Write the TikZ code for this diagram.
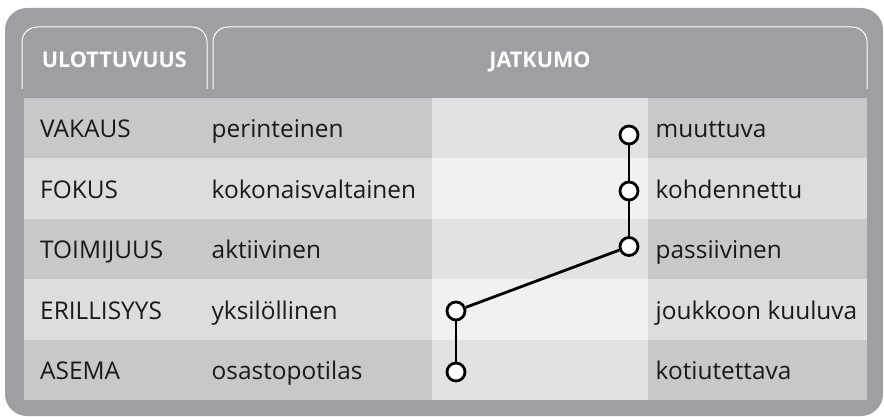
\documentclass[tikz,border=0pt]{standalone}
\usepackage{fontspec}
\setmainfont{Open Sans}
\definecolor{outergray}{HTML}{9E9FA3}
\definecolor{darkside}{HTML}{C7C8CA}
\definecolor{lightside}{HTML}{DCDDDF}
\definecolor{darkmid}{HTML}{E1E2E4}
\definecolor{lightmid}{HTML}{F1F1F1}
\definecolor{txt}{HTML}{1A1A1A}
\begin{document}
\begin{tikzpicture}[x=1pt,y=-1pt,
  celltext/.style={anchor=base west, inner sep=0pt, text=txt, font=\fontsize{24.4}{28}\selectfont},
  headtext/.style={anchor=base, inner sep=0pt, text=white, font=\bfseries\fontsize{21.6}{25}\selectfont},
  tabline/.style={draw=white, line width=1pt, rounded corners=15pt},
  dot/.style={circle, draw=black, fill=white, line width=2.8pt, minimum size=18pt, inner sep=0pt},
  link/.style={draw=black, line width=2.8pt}
]
\useasboundingbox (0,0) rectangle (884,417);
\fill[white] (0,0) rectangle (884,417);
\fill[outergray, rounded corners=22pt] (5,8) rectangle (883,416);
% tabs
\draw[tabline] (22,89) -- (22,27) -- (207,27) -- (207,89);
\draw[tabline] (213,89) -- (213,27) -- (867,27) -- (867,89);
\node[headtext] (h1) at (114.3,67.3) {ULOTTUVUUS};
\node[headtext] (h2) at (540,67.3) {JATKUMO};
% rows
\foreach \i/\side/\mid in {0/darkside/darkmid,1/lightside/lightmid,2/darkside/darkmid,3/lightside/lightmid,4/darkside/darkmid}{
  \fill[\side] (24,{98+60.4*\i}) rectangle (432,{98+60.4*(\i+1)});
  \fill[\mid] (432,{98+60.4*\i}) rectangle (648.3,{98+60.4*(\i+1)});
  \fill[\side] (648.3,{98+60.4*\i}) rectangle (866.7,{98+60.4*(\i+1)});
}
% texts
\node[celltext] (a1) at (40,138) {VAKAUS};
\node[celltext] (a2) at (40,198.4) {FOKUS};
\node[celltext] (a3) at (40,258.8) {TOIMIJUUS};
\node[celltext] (a4) at (40,319.2) {ERILLISYYS};
\node[celltext] (a5) at (40,379.6) {ASEMA};
\node[celltext] (b1) at (211.5,138) {perinteinen};
\node[celltext] (b2) at (211.5,198.4) {kokonaisvaltainen};
\node[celltext] (b3) at (211.5,258.8) {aktiivinen};
\node[celltext] (b4) at (211.5,319.2) {yksilöllinen};
\node[celltext] (b5) at (211.5,379.6) {osastopotilas};
\node[celltext] (r1) at (655.5,138) {muuttuva};
\node[celltext] (r2) at (655.5,198.4) {kohdennettu};
\node[celltext] (r3) at (655.5,258.8) {passiivinen};
\node[celltext] (r4) at (655.5,319.2) {joukkoon kuuluva};
\node[celltext] (r5) at (655.5,379.6) {kotiutettava};
% profile
\node[dot] (c1) at (629,135) {};
\node[dot] (c2) at (629,191) {};
\node[dot] (c3) at (629,246.5) {};
\node[dot] (c4) at (456,311) {};
\node[dot] (c5) at (456,372) {};
\draw[link] (c1) -- (c2);
\draw[link] (c2) -- (c3);
\draw[link] (c3) -- (c4);
\draw[link] (c4) -- (c5);
\end{tikzpicture}
\end{document}
